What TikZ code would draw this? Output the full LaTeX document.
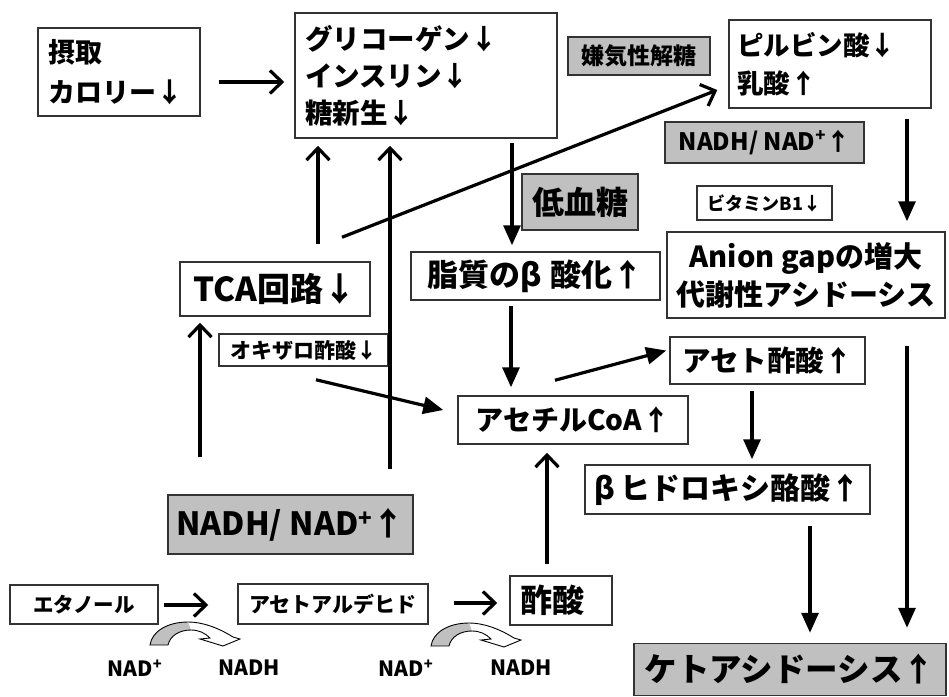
\documentclass[tikz,border=0pt]{standalone}
\usepackage{fontspec}
\setmainfont{Noto Sans CJK JP}
\usetikzlibrary{arrows.meta,calc}
\definecolor{boxgray}{HTML}{C0C0C0}
\tikzset{
 bx/.style={draw=black!80, line width=1.5pt, fill=white, inner sep=0pt},
 gbx/.style={bx, fill=boxgray},
 fz/.style 2 args={font=\bfseries\fontsize{#1}{#2}\selectfont},
 oarr/.style={line width=3.2pt, -{Straight Barb[length=12pt,width=23pt,line width=3.2pt]}},
 farr/.style={line width=3.2pt, -{Triangle[length=20pt,width=17pt]}},
 lbl/.style={inner sep=0pt, fz={21}{24}},
 band/.style={line width=0.9pt, draw=black},
}
\newcommand\nadcurve[1]{%
 \begin{scope}[shift={#1}]
  \fill[boxgray] (0,0) .. controls (2,-14) and (18,-23) .. (38,-23) -- (41,-15)
    .. controls (29,-15) and (20,-9) .. (18,0) -- cycle;
  \draw[band] (0,0) .. controls (2,-14) and (18,-23) .. (38,-23)
    .. controls (55,-23) and (72,-15) .. (83,-8) -- (90,-6) -- (73,1) -- (50,-6) -- (60,-7)
    .. controls (55,-12) and (49,-15) .. (41,-15)
    .. controls (29,-15) and (20,-9) .. (18,0) -- cycle;
 \end{scope}}
\begin{document}
\begin{tikzpicture}[x=1pt,y=-1pt]
\useasboundingbox (0,0) rectangle (949,696);
% boxes
\node[bx, minimum width=162, minimum height=88, text width=142, align=left, inner xsep=10pt, fz={27}{40}] (intake) at (119,72) {摂取\\カロリー↓};
\node[bx, minimum width=262, minimum height=125, text width=242, align=left, inner xsep=10pt, fz={27.5}{37}] (glyco) at (426,75.5) {グリコーゲン↓\\インスリン↓\\糖新生↓};
\node[gbx, minimum width=142, minimum height=38, fz={23}{26}] (anaer) at (639,56) {嫌気性解糖};
\node[bx, minimum width=202, minimum height=88, text width=186, align=left, inner xsep=8pt, fz={26.5}{38}] (pyru) at (830,64) {ピルビン酸↓\\乳酸↑};
\node[gbx, minimum width=199, minimum height=41, fz={24}{28}] (nadhS) at (764.5,142.5) {NADH/ NAD\textsuperscript{+}↑};
\node[bx, minimum width=135, minimum height=34, fz={18}{22}] (vitB1) at (764.5,203) {ビタミンB1↓};
\node[bx, minimum width=278, minimum height=86, align=center, fz={29}{38}] (anion) at (806,275) {Anion gapの増大\\代謝性アシドーシス};
\node[gbx, minimum width=116, minimum height=56, fz={32}{36}] (hypo) at (580,202) {低血糖};
\node[bx, minimum width=190, minimum height=54, fz={33}{36}] (tca) at (275,289) {TCA回路↓};
\node[bx, minimum width=249, minimum height=48, fz={31}{34}] (lipid) at (535.5,276) {脂質のβ\hspace{0.25em}酸化↑};
\node[bx, minimum width=169, minimum height=32, fz={21}{24}] (oxalo) at (303.5,350) {オキザロ酢酸↓};
\node[bx, minimum width=230, minimum height=48, fz={28}{32}] (acoa) at (573,420) {アセチルCoA↑};
\node[bx, minimum width=195, minimum height=47, fz={28.5}{32}] (aceto) at (767.5,360.5) {アセト酢酸↑};
\node[bx, minimum width=285, minimum height=49, fz={30}{34}] (bhb) at (727.5,489.5) {β\hspace{0.15em}ヒドロキシ酪酸↑};
\node[gbx, minimum width=312, minimum height=52, fz={32.5}{36}] (keto) at (790,669.5) {ケトアシドーシス↑};
\node[gbx, minimum width=245, minimum height=59, fz={32}{36}] (nadhB) at (290.5,524.5) {NADH/ NAD\textsuperscript{+}↑};
\node[bx, minimum width=148, minimum height=39, fz={20.5}{24}] (ethanol) at (84,604.5) {エタノール};
\node[bx, minimum width=190, minimum height=40, fz={21}{24}] (acetald) at (333,604) {アセトアルデヒド};
\node[bx, minimum width=102, minimum height=49, text width=82, align=left, inner xsep=10pt, fz={32}{36}] (acetic) at (561,600.5) {酢酸};
% NAD labels
\node[lbl] (nad1) at (135,668) {NAD\textsuperscript{+}};
\node[lbl] (nadh1) at (249,668) {NADH};
\node[lbl] (nad2) at (406,668) {NAD\textsuperscript{+}};
\node[lbl] (nadh2) at (521,668) {NADH};
% curved cofactor arrows
\nadcurve{(150,645)}
\nadcurve{(431,646)}
% connectors
\draw[oarr] ($(intake.east)+(18,10)$) -- ($(glyco.west)+(-10,6.5)$);
\draw[farr] ($(glyco.south)+(86,4)$) -- ($(lipid.north)+(-23.5,-6)$);
\draw[oarr] ($(tca.north)+(67,-24)$) -- ($(pyru.west)+(-11,26)$);
\draw[oarr] ($(tca.north)+(43,-17)$) -- ($(glyco.south)+(-108,7)$);
\draw[oarr] ($(nadhB.north)+(99.5,-25)$) -- ($(glyco.south)+(-36,7)$);
\draw[oarr] ($(nadhB.north)+(-90.5,-37)$) -- ($(tca.south)+(-75,6)$);
\draw[farr] ($(oxalo.south)+(12.5,13)$) -- ($(acoa.west)+(-14,-10)$);
\draw[farr] ($(lipid.south)+(-24.5,5)$) -- ($(acoa.north)+(-62,-8)$);
\draw[farr] ($(acoa.north)+(-18,-15)$) -- ($(aceto.west)+(-3,-10)$);
\draw[farr] ($(aceto.south)+(-15.5,6)$) -- ($(bhb.north)+(24.5,-5)$);
\draw[farr] ($(bhb.south)+(82.5,11)$) -- ($(keto.north)+(20,-10)$);
\draw[farr] ($(pyru.south)+(77,10)$) -- ($(anion.north)+(101,-10)$);
\draw[farr] ($(anion.south)+(101,27)$) -- ($(keto.north)+(117,-15)$);
\draw[oarr] ($(acetic.north)+(-14,-11)$) -- ($(acoa.south)+(-26,8)$);
\draw[oarr] ($(ethanol.east)+(5,0.5)$) -- ($(acetald.west)+(-29,1)$);
\draw[oarr] ($(acetald.east)+(25,-1)$) -- ($(acetic.west)+(-12,2.5)$);
\end{tikzpicture}
\end{document}
